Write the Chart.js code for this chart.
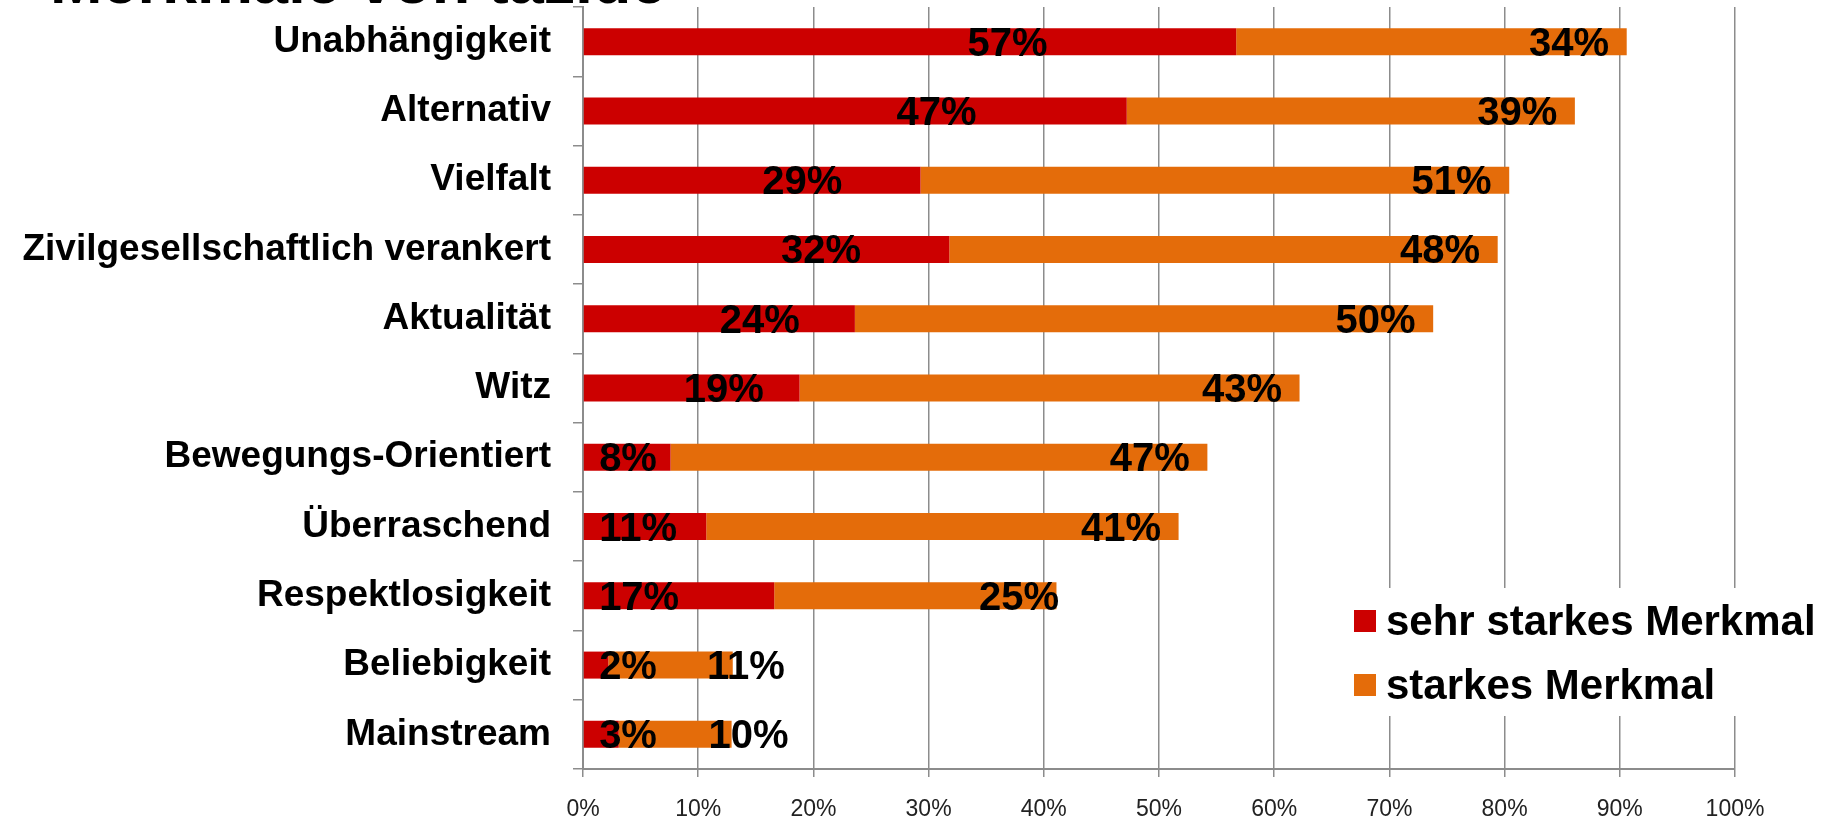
<!DOCTYPE html>
<html>
<head>
<meta charset="utf-8">
<script src="https://cdn.jsdelivr.net/npm/chart.js@4.4.1/dist/chart.umd.min.js"></script>
<style>
  html, body { margin: 0; padding: 0; background: #fff; }
  #wrap { width: 1837px; height: 822px; }
</style>
</head>
<body>
<div id="wrap"><canvas id="myChart" width="1837" height="822"></canvas></div>
<script>
const chartTitle = 'Merkmale von taz.de';
const categories = ['Unabhängigkeit', 'Alternativ', 'Vielfalt', 'Zivilgesellschaftlich verankert', 'Aktualität', 'Witz', 'Bewegungs-Orientiert', 'Überraschend', 'Respektlosigkeit', 'Beliebigkeit', 'Mainstream'];
const seriesNames = ['sehr starkes Merkmal', 'starkes Merkmal'];
const sehrStark = [56.7, 47.2, 29.3, 31.8, 23.6, 18.8, 7.6, 10.7, 16.6, 2.2, 3.1];
const stark = [33.9, 38.9, 51.1, 47.6, 50.2, 43.4, 46.6, 41.0, 24.5, 10.8, 9.8];
const xTicks = [0, 10, 20, 30, 40, 50, 60, 70, 80, 90, 100];

const RED = '#cc0000';
const ORANGE = '#e46c0a';
const GRID = '#8c8c8c';
const FONT = "'Liberation Sans', Arial, sans-serif";

// value labels, title (cut at top) and legend box in the plot
const extras = {
  id: 'extras',
  afterDatasetsDraw(chart) {
    const ctx = chart.ctx;
    const x = chart.scales.x;
    ctx.save();
    ctx.fillStyle = '#000';
    ctx.font = 'bold 40px ' + FONT;
    ctx.textBaseline = 'middle';
    chart.data.datasets.forEach((ds, di) => {
      chart.getDatasetMeta(di).data.forEach((bar, i) => {
        const red = sehrStark[i];
        const total = red + stark[i];
        let pos;
        if (di === 0) {
          if (red < 18) { ctx.textAlign = 'left'; pos = 1.4; }
          else { ctx.textAlign = 'center'; pos = red * 0.65; }
        } else {
          ctx.textAlign = 'center';
          pos = total - 5 + Math.max(0, (30 - stark[i]) * 0.32);
        }
        ctx.fillText(Math.round(ds.data[i]) + '%', x.getPixelForValue(pos), bar.y + 3);
      });
    });
    ctx.restore();
  },
  afterDraw(chart) {
    const ctx = chart.ctx;
    ctx.save();
    // title, mostly above the picture
    ctx.fillStyle = '#000';
    ctx.font = 'bold 63px ' + FONT;
    ctx.textAlign = 'left';
    ctx.textBaseline = 'alphabetic';
    ctx.fillText(chartTitle, 50, 3);

    // legend
    ctx.fillStyle = '#fff';
    ctx.fillRect(1340, 588, 497, 128);
    ctx.font = 'bold 42px ' + FONT;
    ctx.textBaseline = 'middle';
    chart.data.datasets.forEach((ds, i) => {
      const cy = 621 + i * 64;
      ctx.fillStyle = ds.backgroundColor;
      ctx.fillRect(1354, cy - 11, 22, 22);
      ctx.fillStyle = '#000';
      ctx.fillText(ds.label, 1386, cy + 2);
    });
    ctx.restore();
  }
};

const ctx = document.getElementById('myChart');

new Chart(ctx, {
  type: 'bar',
  data: {
    labels: categories,
    datasets: [
      { label: seriesNames[0], data: sehrStark, backgroundColor: RED, categoryPercentage: 1, barPercentage: 0.39 },
      { label: seriesNames[1], data: stark, backgroundColor: ORANGE, categoryPercentage: 1, barPercentage: 0.39 }
    ]
  },
  options: {
    indexAxis: 'y',
    responsive: false,
    animation: false,
    layout: { padding: { top: 7, right: 102, bottom: 0, left: 0 } },
    scales: {
      x: {
        stacked: true,
        min: 0,
        max: 100,
        afterBuildTicks: (s) => { s.ticks = xTicks.map(v => ({ value: v })); },
        afterFit: (s) => { s.height = 53; },
        grid: { color: GRID, lineWidth: 1.5, tickLength: 8, drawTicks: true },
        border: { color: GRID, width: 2 },
        ticks: {
          padding: 19,
          color: '#222',
          font: { family: FONT, size: 23 },
          callback: (v) => v + '%'
        }
      },
      y: {
        stacked: true,
        afterFit: (s) => { s.width = 583; s.paddingTop = 0; s.paddingBottom = 0; },
        grid: { drawOnChartArea: false, color: GRID, lineWidth: 1.5, tickLength: 10 },
        border: { color: GRID, width: 2 },
        ticks: {
          padding: 22,
          color: '#000',
          font: { family: FONT, size: 37, weight: 'bold' }
        }
      }
    },
    plugins: {
      legend: { display: false },
      tooltip: { enabled: false }
    }
  },
  plugins: [extras]
});
</script>
</body>
</html>
